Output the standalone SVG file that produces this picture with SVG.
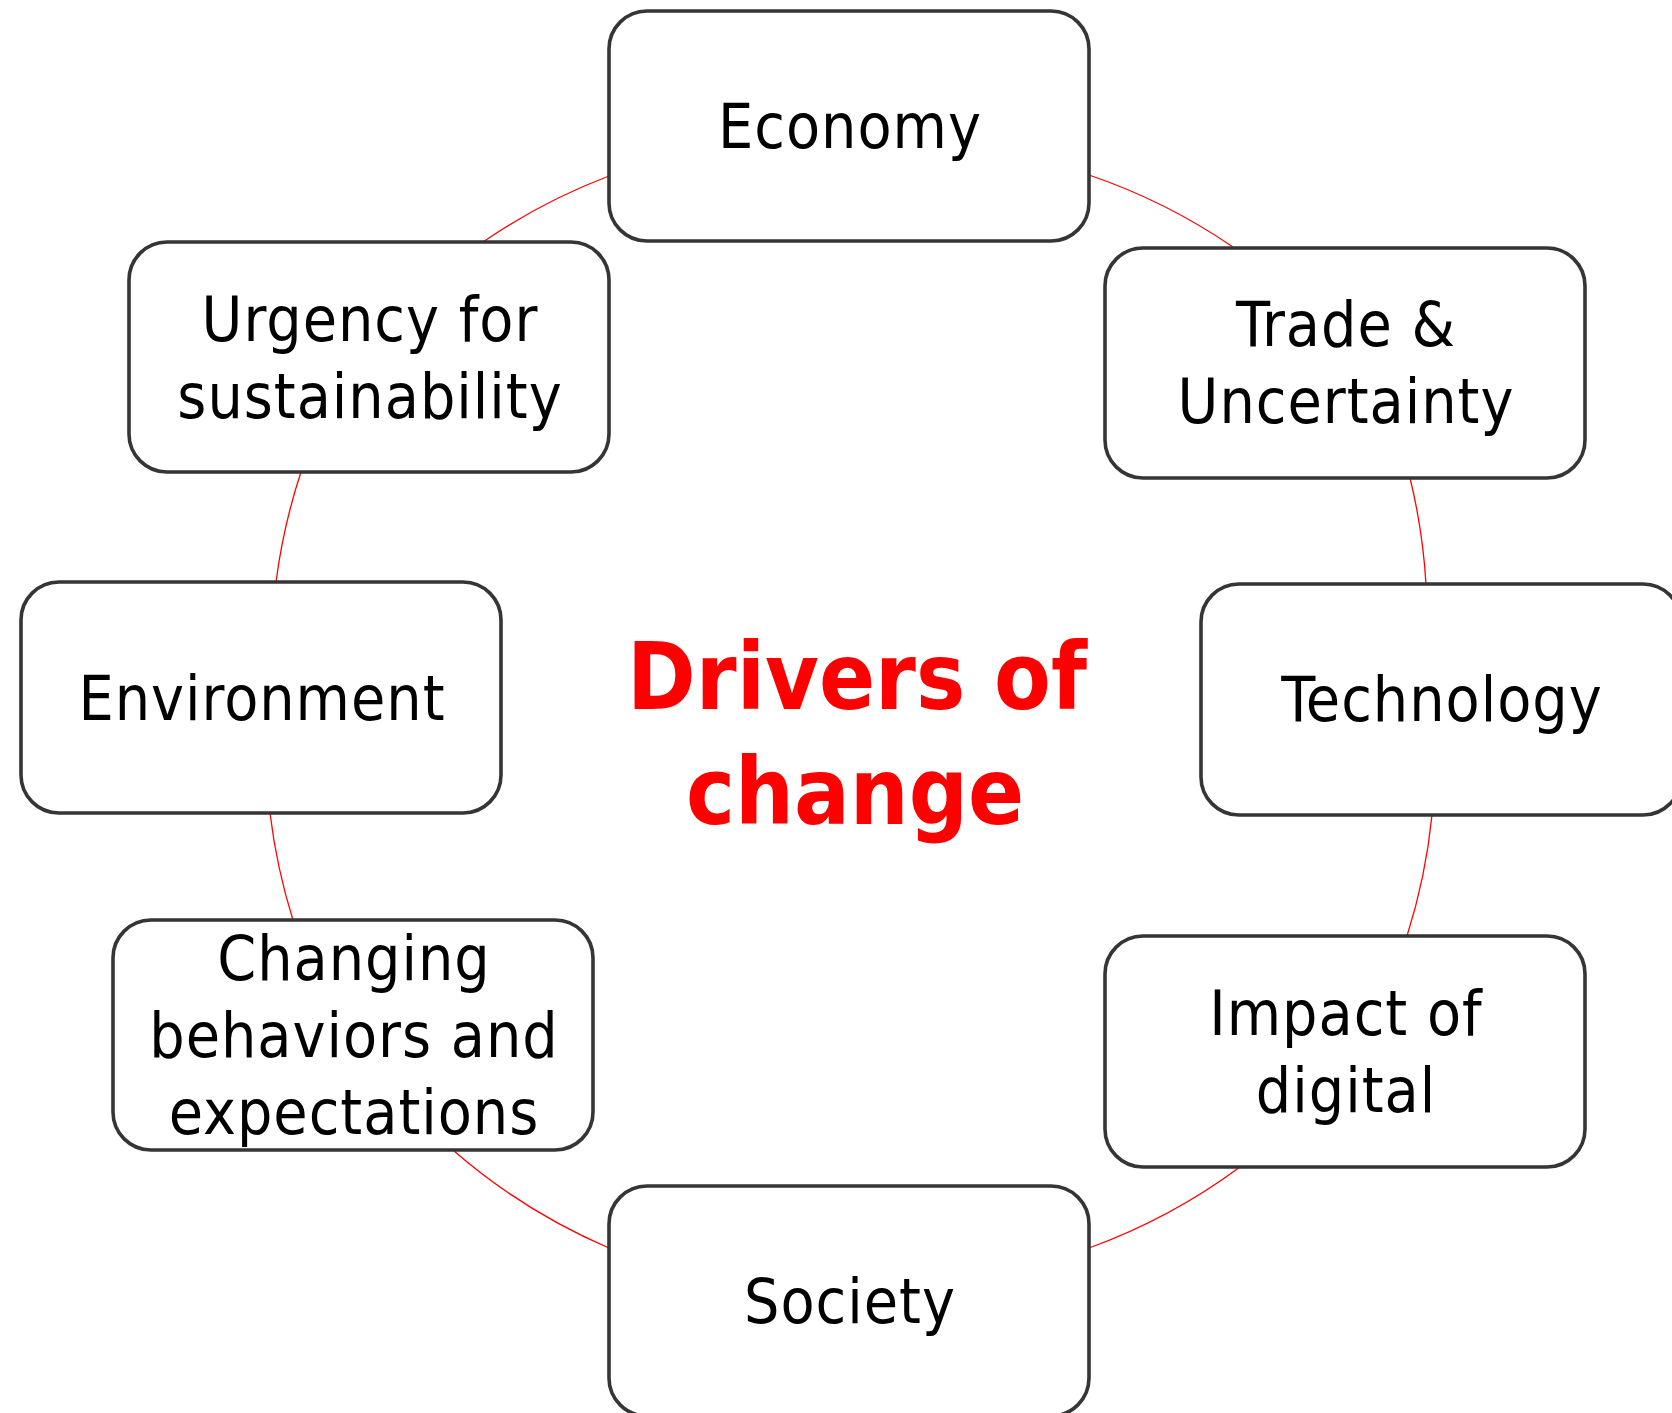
<svg xmlns="http://www.w3.org/2000/svg" width="1672" height="1413" viewBox="0 0 1672 1413">
<style>
.box{fill:#ffffff;stroke:#353535;stroke-width:3.6}
.lbl{font-family:'DejaVu Sans Condensed','DejaVu Sans',sans-serif;font-stretch:condensed;font-size:62px;letter-spacing:1px;fill:#000000;text-anchor:middle}
.arc{fill:none;stroke:#ff0000;stroke-width:1.3}
.title{font-family:'DejaVu Sans Condensed','DejaVu Sans',sans-serif;font-stretch:condensed;font-weight:bold;font-size:92px;fill:#ff0000;text-anchor:middle}
</style>
<rect x="0" y="0" width="1672" height="1413" fill="#ffffff"/>
<g id="connectors">
<path class="arc" d="M1089,175 A595,595 0 0 1 1233,247"/>
<path class="arc" d="M1410,478 A595,595 0 0 1 1426,584"/>
<path class="arc" d="M1432,815 A595,595 0 0 1 1407,936"/>
<path class="arc" d="M1240,1167 A595,595 0 0 1 1089,1248"/>
<path class="arc" d="M609,1248 A595,595 0 0 1 454,1151"/>
<path class="arc" d="M293,920 A595,595 0 0 1 270,813"/>
<path class="arc" d="M276,582 A595,595 0 0 1 301,472"/>
<path class="arc" d="M483,242 A595,595 0 0 1 609,176"/>
</g>
<g id="economy">
<rect class="box" x="609" y="11" width="480" height="230" rx="38"/>
<text class="lbl" x="850" y="148">Economy</text>
</g>
<g id="trade">
<rect class="box" x="1105" y="248" width="480" height="230" rx="38"/>
<text class="lbl" x="1346" y="346">Trade &amp;</text>
<text class="lbl" x="1346" y="423">Uncertainty</text>
</g>
<g id="technology">
<rect class="box" x="1201" y="584" width="480" height="231" rx="38"/>
<text class="lbl" x="1442" y="721">Technology</text>
</g>
<g id="impact">
<rect class="box" x="1105" y="936" width="480" height="231" rx="38"/>
<text class="lbl" x="1346" y="1035">Impact of</text>
<text class="lbl" x="1346" y="1112">digital</text>
</g>
<g id="society">
<rect class="box" x="609" y="1186" width="480" height="230" rx="38"/>
<text class="lbl" x="850" y="1323">Society</text>
</g>
<g id="changing">
<rect class="box" x="113" y="920" width="480" height="230" rx="38"/>
<text class="lbl" x="354" y="980">Changing</text>
<text class="lbl" x="354" y="1057">behaviors and</text>
<text class="lbl" x="354" y="1134">expectations</text>
</g>
<g id="environment">
<rect class="box" x="21" y="582" width="480" height="231" rx="38"/>
<text class="lbl" x="262" y="720">Environment</text>
</g>
<g id="urgency">
<rect class="box" x="129" y="242" width="480" height="230" rx="38"/>
<text class="lbl" x="370" y="341">Urgency for</text>
<text class="lbl" x="370" y="418">sustainability</text>
</g>
<g id="title">
<text class="title" x="857" y="709">Drivers of</text>
<text class="title" x="855" y="824">change</text>
</g>
</svg>
